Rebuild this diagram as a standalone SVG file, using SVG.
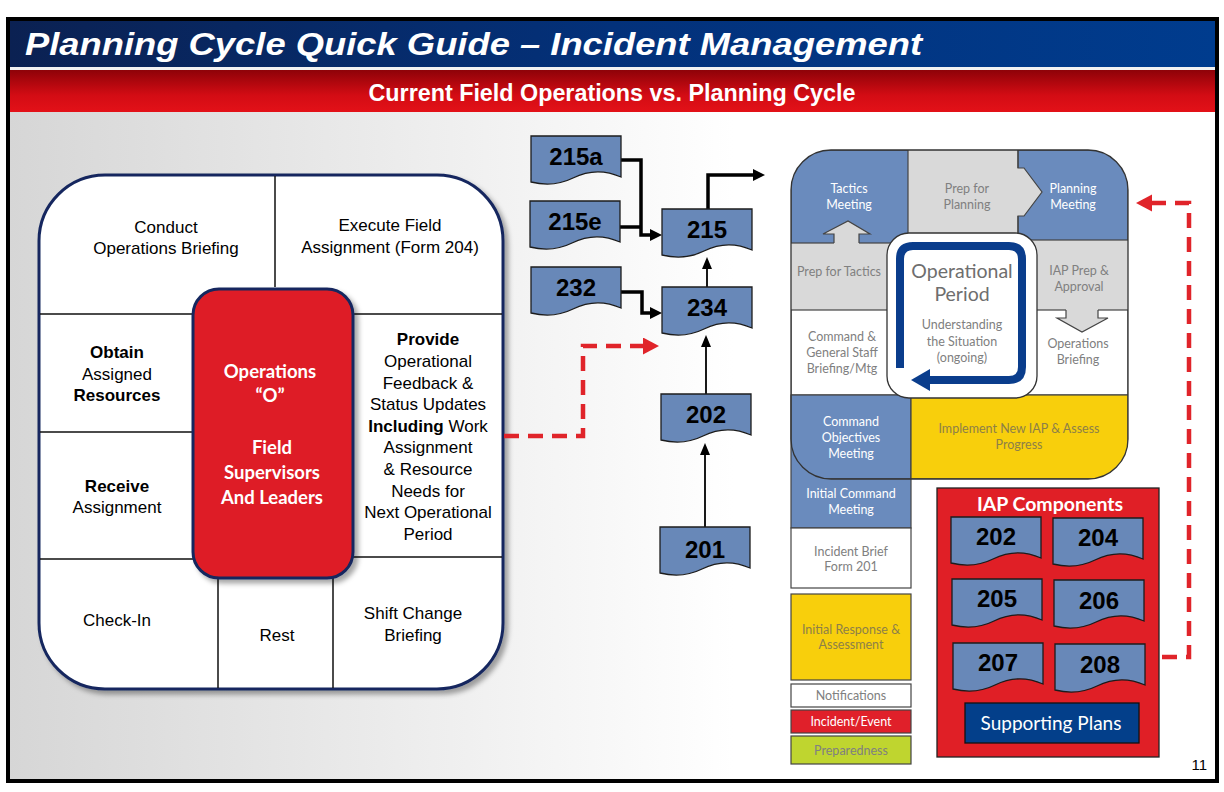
<svg xmlns="http://www.w3.org/2000/svg" width="1224" height="792" viewBox="0 0 1224 792">
<defs>
<linearGradient id="bodyGrad" x1="0" y1="0" x2="1" y2="0"><stop offset="0" stop-color="#d6d6d6"/><stop offset="0.6" stop-color="#ffffff"/><stop offset="1" stop-color="#ffffff"/></linearGradient>
<linearGradient id="blueGrad" x1="0" y1="0" x2="1" y2="0"><stop offset="0" stop-color="#0b2152"/><stop offset="0.5" stop-color="#03317a"/><stop offset="1" stop-color="#003c8e"/></linearGradient>
<linearGradient id="redGrad" x1="0" y1="0" x2="0" y2="1"><stop offset="0" stop-color="#8e0208"/><stop offset="0.6" stop-color="#d30c14"/><stop offset="1" stop-color="#e31118"/></linearGradient>
<filter id="shadow" x="-10%" y="-10%" width="125%" height="125%"><feDropShadow dx="4" dy="4" stdDeviation="2.5" flood-color="#000" flood-opacity="0.35"/></filter>
<path id="doc" d="M0,0 H90 V41 C72,33 56,35 42,42 C28,49 12,49 0,46 Z"/>
<marker id="ahBlack" markerUnits="userSpaceOnUse" markerWidth="14" markerHeight="14" refX="2" refY="6" orient="auto"><path d="M0,0 L12,6 L0,12 Z" fill="#000"/></marker>
<marker id="ahThin" markerUnits="userSpaceOnUse" markerWidth="12" markerHeight="12" refX="2" refY="5" orient="auto"><path d="M0,0 L12,5 L0,10 Z" fill="#000"/></marker>
<marker id="ahRed" markerUnits="userSpaceOnUse" markerWidth="18" markerHeight="18" refX="1" refY="8.5" orient="auto"><path d="M0,0 L16,8.5 L0,17 Z" fill="#e0242a"/></marker>
<clipPath id="cycleClip"><rect x="791" y="150" width="337" height="329" rx="40"/></clipPath>
<style>
.t17{font-family:"Liberation Sans",Arial,sans-serif;font-size:17px;fill:#000;text-anchor:middle}
.b{font-weight:bold}
.ops{font-family:Lato,"Open Sans",sans-serif;font-weight:bold;font-size:18.5px;fill:#fff;text-anchor:middle}
.grid{stroke:#111;stroke-width:1.5;fill:none}
.doc{fill:#6888b8;stroke:#1c1c1c;stroke-width:1.3}
.num{font-family:"Liberation Sans",Arial,sans-serif;font-weight:bold;font-size:24px;fill:#000;text-anchor:middle}
.conn{fill:none;stroke:#000;stroke-width:3.5}
.thin{fill:none;stroke:#000;stroke-width:1.8}
.dash{fill:none;stroke:#e0242a;stroke-width:4.5;stroke-dasharray:15 9}
.cyc{font-family:Lato,"Noto Sans",sans-serif;font-size:12.5px;text-anchor:middle}
.wt{fill:#fff}
.gt{fill:#808080}
.yt{fill:#8d7f48}
.cell{stroke:#444;stroke-width:1.2}
</style>
</defs>

<g id="frame">
<rect x="8" y="19" width="1209" height="762" fill="url(#bodyGrad)" stroke="#000" stroke-width="4"/>
<rect x="10" y="21" width="1205" height="46" fill="url(#blueGrad)"/>
<rect x="10" y="67" width="1205" height="3" fill="#f2f2f2"/>
<rect x="10" y="70" width="1205" height="42" fill="url(#redGrad)"/>
<text x="25" y="55" font-family="'Liberation Sans',Arial,sans-serif" font-weight="bold" font-style="italic" font-size="31" fill="#fff" textLength="897" lengthAdjust="spacingAndGlyphs">Planning Cycle Quick Guide – Incident Management</text>
<text x="612" y="101" font-family="'Liberation Sans',Arial,sans-serif" font-weight="bold" font-size="23" fill="#fff" text-anchor="middle" textLength="487" lengthAdjust="spacingAndGlyphs">Current Field Operations vs. Planning Cycle</text>
<text x="1207" y="770" font-family="'Liberation Sans',Arial,sans-serif" font-size="15" fill="#000" text-anchor="end">11</text>
</g>

<g id="field-ops-cycle">
<rect x="39" y="175" width="464" height="514" rx="66" fill="#fff" stroke="#14285e" stroke-width="3" filter="url(#shadow)"/>
<path class="grid" d="M275,176 V287 M40,314 H193 M352,314 H502 M40,432 H193 M40,559 H193 M352,557 H502 M218,578 V688 M333,578 V688"/>
<text class="t17" x="166" y="233">Conduct</text>
<text class="t17" x="166" y="254">Operations Briefing</text>
<text class="t17" x="390" y="231">Execute Field</text>
<text class="t17" x="390" y="253">Assignment (Form 204)</text>
<text class="t17 b" x="117" y="358">Obtain</text>
<text class="t17" x="117" y="380">Assigned</text>
<text class="t17 b" x="117" y="401">Resources</text>
<text class="t17 b" x="117" y="492">Receive</text>
<text class="t17" x="117" y="513">Assignment</text>
<text class="t17 b" x="428" y="345">Provide</text>
<text class="t17" x="428" y="367">Operational</text>
<text class="t17" x="428" y="389">Feedback &amp;</text>
<text class="t17" x="428" y="410">Status Updates</text>
<text class="t17" x="428" y="432"><tspan font-weight="bold">Including</tspan> Work</text>
<text class="t17" x="428" y="453">Assignment</text>
<text class="t17" x="428" y="475">&amp; Resource</text>
<text class="t17" x="428" y="497">Needs for</text>
<text class="t17" x="428" y="518">Next Operational</text>
<text class="t17" x="428" y="540">Period</text>
<text class="t17" x="117" y="626">Check-In</text>
<text class="t17" x="277" y="641">Rest</text>
<text class="t17" x="413" y="619">Shift Change</text>
<text class="t17" x="413" y="641">Briefing</text>
</g>

<g id="ops-center">
<rect x="193" y="289" width="160" height="289" rx="26" fill="#de1f25" stroke="#14285e" stroke-width="3" filter="url(#shadow)"/>
<text class="ops" x="270" y="378">Operations</text>
<text class="ops" x="270" y="402">“O”</text>
<text class="ops" x="272" y="454">Field</text>
<text class="ops" x="272" y="479">Supervisors</text>
<text class="ops" x="272" y="504">And Leaders</text>
</g>

<g id="connectors">
<path class="conn" d="M621,160 H641 V235 H652" marker-end="url(#ahBlack)"/>
<path class="conn" d="M620,227 H641"/>
<path class="conn" d="M621,292 H642 V313 H652" marker-end="url(#ahBlack)"/>
<path class="conn" d="M708,209 V175 H755" marker-end="url(#ahBlack)"/>
<path class="thin" d="M707,287 V267" marker-end="url(#ahThin)"/>
<path class="thin" d="M706,394 V345" marker-end="url(#ahThin)"/>
<path class="thin" d="M705,527 V453" marker-end="url(#ahThin)"/>
<path class="dash" d="M504,436 H583 V346 H644" marker-end="url(#ahRed)"/>
<path class="dash" d="M1162,657 H1189 V203 H1151" marker-end="url(#ahRed)"/>
</g>

<g id="form-215a"><use href="#doc" x="531" y="136" class="doc"/><text class="num" x="576" y="165">215a</text></g>
<g id="form-215e"><use href="#doc" x="530" y="201" class="doc"/><text class="num" x="575" y="230">215e</text></g>
<g id="form-232"><use href="#doc" x="531" y="267" class="doc"/><text class="num" x="576" y="296">232</text></g>
<g id="form-215"><use href="#doc" x="662" y="209" class="doc"/><text class="num" x="707" y="238">215</text></g>
<g id="form-234"><use href="#doc" x="662" y="287" class="doc"/><text class="num" x="707" y="316">234</text></g>
<g id="form-202"><use href="#doc" x="661" y="394" class="doc"/><text class="num" x="706" y="423">202</text></g>
<g id="form-201"><use href="#doc" x="660" y="527" class="doc"/><text class="num" x="705" y="558">201</text></g>

<g id="planning-cycle">
<rect x="791" y="395" width="120" height="133" fill="#6a8bbd" class="cell"/>
<g clip-path="url(#cycleClip)">
<rect x="791" y="150" width="337" height="160" fill="#d9d9d9"/>
<rect x="791" y="150" width="117" height="93" fill="#6a8bbd" class="cell"/>
<rect x="1018" y="150" width="110" height="90" fill="#6a8bbd" class="cell"/>
<rect x="791" y="310" width="337" height="85" fill="#fff" class="cell"/>
<rect x="791" y="395" width="120" height="84" fill="#6a8bbd" class="cell"/>
<rect x="911" y="395" width="217" height="84" fill="#f8cf0c" class="cell"/>
</g>
<path d="M1016,168 H1024 L1042,192 L1024,216 H1016 Z" fill="#d9d9d9"/>
<path d="M1018,150 V168 H1024 L1042,192 L1024,216 H1018 V240" fill="none" stroke="#444" stroke-width="1.2"/>
<path d="M834,244 V234 H823 L848,221 L870,234 H859 V244 Z" fill="#d9d9d9"/>
<path d="M834,243 V234 H823 L848,221 L870,234 H859 V243" fill="none" stroke="#444" stroke-width="1.2"/>
<path d="M1066,309 V318 H1057 L1082,332 L1108,318 H1098 V309 Z" fill="#d9d9d9"/>
<path d="M1066,310 V318 H1057 L1082,332 L1108,318 H1098 V310" fill="none" stroke="#444" stroke-width="1.2"/>
<rect x="791" y="150" width="337" height="329" rx="40" fill="none" stroke="#333" stroke-width="1.3"/>
<g id="operational-period">
<rect x="887" y="233" width="150" height="165" rx="22" fill="#fff" stroke="#333" stroke-width="1.3"/>
<path d="M900,368 V259 Q900,246 913,246 H1009 Q1022,246 1022,259 V367 Q1022,380 1009,380 H928" fill="none" stroke="#0a3d8c" stroke-width="8"/>
<path d="M911,380 L930,369 L930,391 Z" fill="#0a3d8c"/>
<text x="962" y="278" font-family="Lato,'Noto Sans',sans-serif" font-size="19.5" fill="#6e6e6e" text-anchor="middle">Operational</text>
<text x="962" y="301" font-family="Lato,'Noto Sans',sans-serif" font-size="19.5" fill="#6e6e6e" text-anchor="middle">Period</text>
<text class="cyc gt" x="962" y="329" font-size="13">Understanding</text>
<text class="cyc gt" x="962" y="346" font-size="13">the Situation</text>
<text class="cyc gt" x="962" y="362" font-size="13">(ongoing)</text>
</g>
<text class="cyc wt" x="849" y="193">Tactics</text>
<text class="cyc wt" x="849" y="209">Meeting</text>
<text class="cyc gt" x="967" y="193">Prep for</text>
<text class="cyc gt" x="967" y="209">Planning</text>
<text class="cyc wt" x="1073" y="193">Planning</text>
<text class="cyc wt" x="1073" y="209">Meeting</text>
<text class="cyc gt" x="839" y="276">Prep for Tactics</text>
<text class="cyc gt" x="1079" y="275">IAP Prep &amp;</text>
<text class="cyc gt" x="1079" y="291">Approval</text>
<text class="cyc gt" x="842" y="341">Command &amp;</text>
<text class="cyc gt" x="842" y="357">General Staff</text>
<text class="cyc gt" x="842" y="373">Briefing/Mtg</text>
<text class="cyc gt" x="1078" y="348">Operations</text>
<text class="cyc gt" x="1078" y="364">Briefing</text>
<text class="cyc wt" x="851" y="426">Command</text>
<text class="cyc wt" x="851" y="442">Objectives</text>
<text class="cyc wt" x="851" y="458">Meeting</text>
<text class="cyc yt" x="1019" y="433">Implement New IAP &amp; Assess</text>
<text class="cyc yt" x="1019" y="449">Progress</text>
<text class="cyc wt" x="851" y="498">Initial Command</text>
<text class="cyc wt" x="851" y="514">Meeting</text>
</g>

<g id="incident-brief"><rect x="791" y="528" width="120" height="60" fill="#fff" class="cell"/><text class="cyc gt" x="851" y="556">Incident Brief</text><text class="cyc gt" x="851" y="571">Form 201</text></g>
<g id="initial-response"><rect x="791" y="594" width="120" height="86" fill="#f8cf0c" class="cell"/><text class="cyc yt" x="851" y="634">Initial Response &amp;</text><text class="cyc yt" x="851" y="649">Assessment</text></g>
<g id="notifications"><rect x="791" y="684" width="120" height="23" fill="#fff" class="cell"/><text class="cyc gt" x="851" y="700">Notifications</text></g>
<g id="incident-event"><rect x="791" y="710" width="120" height="23" fill="#e0202a" class="cell"/><text class="cyc wt" x="851" y="726">Incident/Event</text></g>
<g id="preparedness"><rect x="791" y="736" width="120" height="28" fill="#bfd52f" class="cell"/><text class="cyc gt" x="851" y="755">Preparedness</text></g>

<g id="iap-components">
<rect x="937" y="488" width="222" height="269" fill="#e01f26" stroke="#222" stroke-width="1.3"/>
<text x="1050" y="511" font-family="Lato,'Open Sans',sans-serif" font-weight="bold" font-size="19.5" fill="#fff" text-anchor="middle">IAP Components</text>
<g id="iap-202"><use href="#doc" x="951" y="517" class="doc"/><text class="num" x="996" y="545">202</text></g>
<g id="iap-204"><use href="#doc" x="1053" y="518" class="doc"/><text class="num" x="1098" y="546">204</text></g>
<g id="iap-205"><use href="#doc" x="952" y="579" class="doc"/><text class="num" x="997" y="607">205</text></g>
<g id="iap-206"><use href="#doc" x="1054" y="580" class="doc"/><text class="num" x="1099" y="609">206</text></g>
<g id="iap-207"><use href="#doc" x="953" y="643" class="doc"/><text class="num" x="998" y="671">207</text></g>
<g id="iap-208"><use href="#doc" x="1055" y="644" class="doc"/><text class="num" x="1100" y="673">208</text></g>
<g id="supporting-plans"><rect x="965" y="703" width="174" height="40" fill="#033f8a" stroke="#111" stroke-width="1.3"/><text x="1051" y="730" font-family="Lato,'Open Sans',sans-serif" font-size="19" fill="#fff" text-anchor="middle">Supporting Plans</text></g>
</g>
</svg>
